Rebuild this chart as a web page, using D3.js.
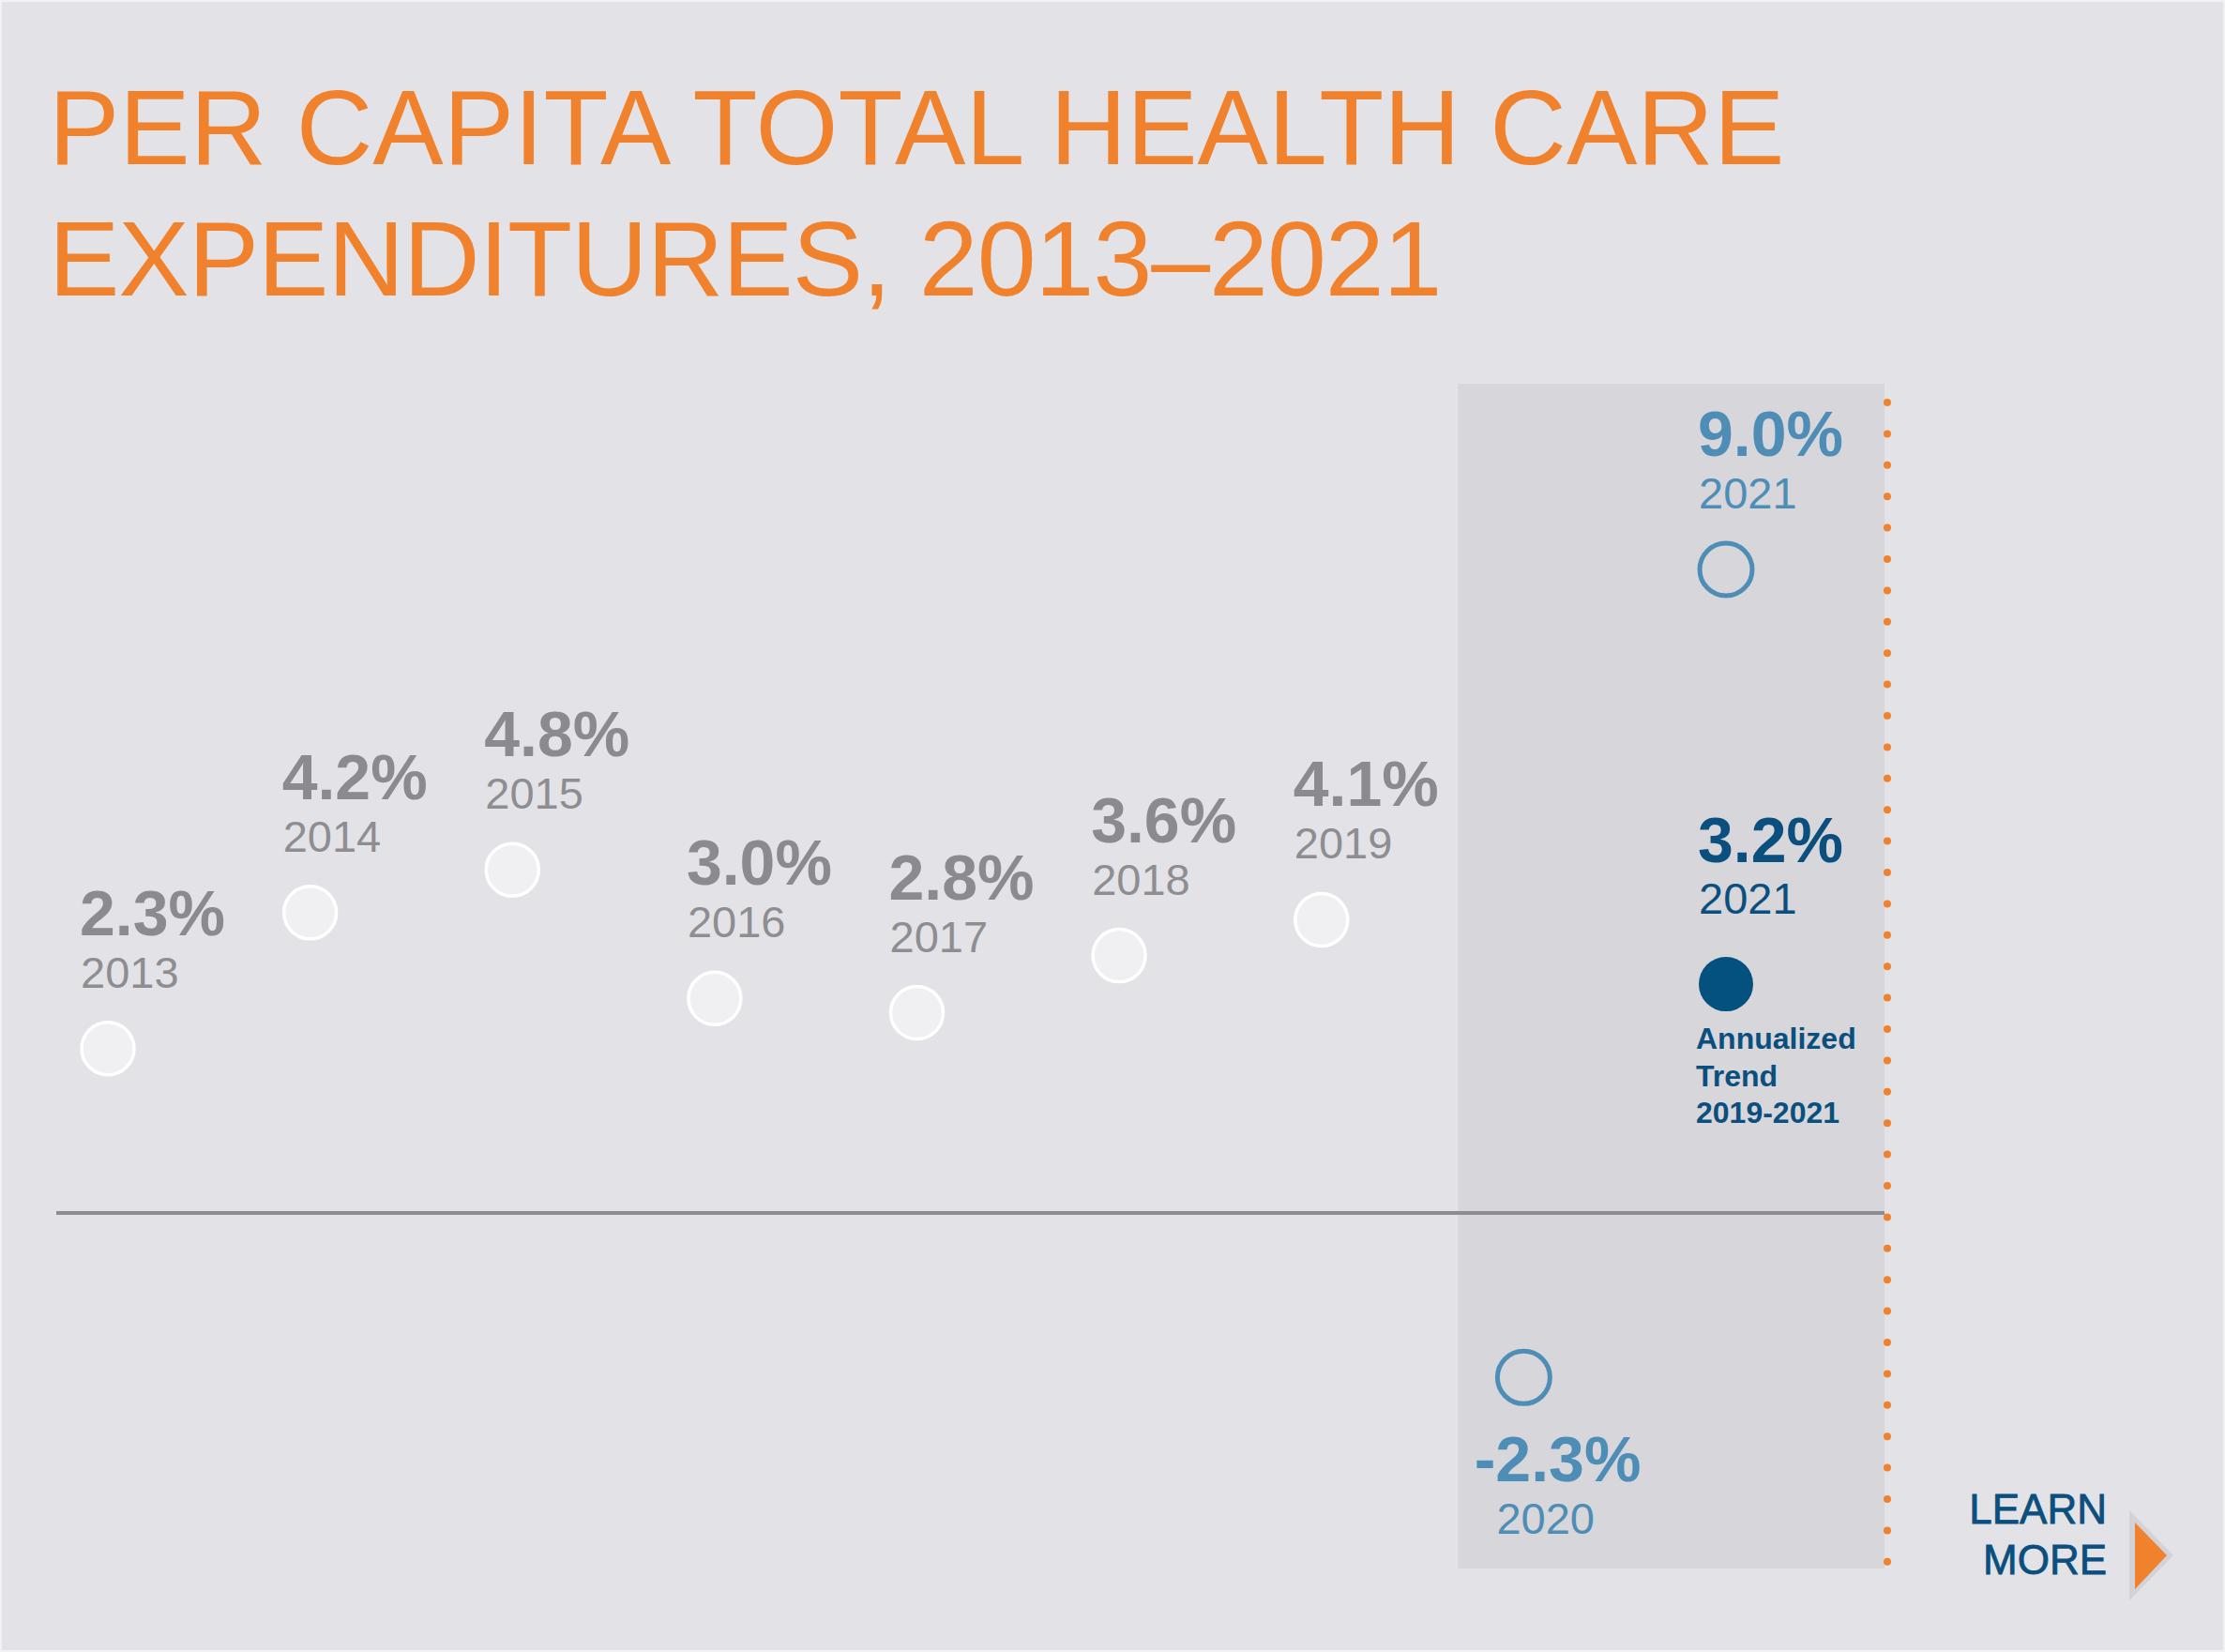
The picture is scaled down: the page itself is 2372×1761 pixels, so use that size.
<!DOCTYPE html>
<html lang="en">
  <head>
    <meta charset="UTF-8" />
    <title>Per Capita Total Health Care Expenditures</title>
    <script src="https://d3js.org/d3.v7.min.js"></script>
    <style>
      body { margin: 0; background: #e3e3e7; }
      text { font-family: "Liberation Sans", Arial, Helvetica, sans-serif; }
    </style>
  </head>

  <body>
    <svg width="2372" height="1761"></svg>

    <script>
      // data
      const years = [2013, 2014, 2015, 2016, 2017, 2018, 2019, 2020, 2021];
      const growth = [2.3, 4.2, 4.8, 3.0, 2.8, 3.6, 4.1, -2.3, 9.0];
      const trendYear = 2021;
      const trendValue = 3.2;
      const trendNote = ["Annualized", "Trend", "2019-2021"];
      const titleLines = ["PER CAPITA TOTAL HEALTH CARE", "EXPENDITURES, 2013\u20132021"];
      const linkLines = ["LEARN", "MORE"];

      const W = 2372, H = 1761;
      const orange = "#f0822e", gray = "#8b8b8f", lightBlue = "#4e8db6", darkBlue = "#0a4f7d";
      const r = 28;

      let svg = d3.select("svg");

      svg.append("rect")
        .attr("x", 1).attr("y", 1)
        .attr("width", W - 2).attr("height", H - 2)
        .attr("fill", "#e3e3e7")
        .attr("stroke", "#f2f2f4")
        .attr("stroke-width", 2);

      const x = d3.scaleLinear().domain([2013, 2021]).range([115, 1840]);
      const y = d3.scaleLinear().domain([0, 9]).range([1293, 607]);

      // title
      svg.append("g")
        .selectAll("text")
        .data(titleLines)
        .enter()
        .append("text")
        .attr("x", 52)
        .attr("y", (d, i) => 175 + i * 140)
        .attr("font-size", 113)
        .attr("letter-spacing", (d, i) => i ? -1 : 0)
        .attr("fill", orange)
        .text(d => d);

      // shaded 2020-2021 band
      const bandLeft = x(2020) - 70, bandRight = x(2021) + 169;
      svg.append("rect")
        .attr("x", bandLeft)
        .attr("y", 409)
        .attr("width", bandRight - bandLeft)
        .attr("height", 1672 - 409)
        .attr("fill", "#d6d6db");

      // zero line
      svg.append("line")
        .attr("x1", 60).attr("x2", bandRight)
        .attr("y1", y(0)).attr("y2", y(0))
        .attr("stroke", "#8d8d91")
        .attr("stroke-width", 4);

      // orange dotted divider
      svg.append("line")
        .attr("x1", bandRight + 3).attr("x2", bandRight + 3)
        .attr("y1", 429).attr("y2", 1668)
        .attr("stroke", orange)
        .attr("stroke-width", 8)
        .attr("stroke-linecap", "round")
        .attr("stroke-dasharray", "0 33.4");

      const pts = years.map((yr, i) => ({ year: yr, value: growth[i], recent: yr >= 2020 }));

      // points
      svg.append("g")
        .selectAll("circle")
        .data(pts)
        .enter()
        .append("circle")
        .attr("cx", d => x(d.year))
        .attr("cy", d => y(d.value))
        .attr("r", r)
        .attr("fill", d => d.recent ? "none" : "#f0f0f2")
        .attr("stroke", d => d.recent ? lightBlue : "#ffffff")
        .attr("stroke-width", d => d.recent ? 5 : 3.5);

      // value + year labels
      const lab = svg.append("g").selectAll("g")
        .data(pts)
        .enter()
        .append("g");

      lab.append("text")
        .attr("class", "val")
        .attr("x", d => x(d.year) - r - 2)
        .attr("y", d => d.value < 0 ? y(d.value) + 111 : y(d.value) - 121)
        .attr("font-size", 68)
        .attr("font-weight", "bold")
        .attr("fill", d => d.recent ? lightBlue : gray)
        .text(d => d.value.toFixed(1) + "%");

      lab.append("text")
        .attr("x", d => x(d.year) - r - 1)
        .attr("y", d => d.value < 0 ? y(d.value) + 167 : y(d.value) - 65)
        .attr("font-size", 47)
        .attr("fill", d => d.recent ? lightBlue : "#8e8e92")
        .text(d => d.year);

      // let the minus sign hang left of the label column
      lab.selectAll("text.val")
        .filter(d => d.value < 0)
        .attr("x", function (d) {
          return x(d.year) - r - 2 - this.getSubStringLength(0, 1);
        });

      // annualized trend
      const tx = x(trendYear), ty = y(trendValue);
      const trend = svg.append("g");
      trend.append("circle")
        .attr("cx", tx).attr("cy", ty)
        .attr("r", r + 1)
        .attr("fill", "#04507f");
      trend.append("text")
        .attr("x", tx - r - 2).attr("y", ty - 130)
        .attr("font-size", 68).attr("font-weight", "bold")
        .attr("fill", darkBlue)
        .text(trendValue.toFixed(1) + "%");
      trend.append("text")
        .attr("x", tx - r - 1).attr("y", ty - 75)
        .attr("font-size", 47)
        .attr("fill", darkBlue)
        .text(trendYear);
      trend.selectAll("text.note")
        .data(trendNote)
        .enter()
        .append("text")
        .attr("class", "note")
        .attr("x", tx - r - 4)
        .attr("y", (d, i) => ty + 69 + i * 39.5)
        .attr("font-size", 32)
        .attr("font-weight", "bold")
        .attr("fill", darkBlue)
        .text(d => d);

      // learn more link
      svg.append("g")
        .selectAll("text")
        .data(linkLines)
        .enter()
        .append("text")
        .attr("x", 2246)
        .attr("y", (d, i) => 1624 + i * 54)
        .attr("text-anchor", "end")
        .attr("font-size", 44)
        .attr("fill", darkBlue)
        .attr("stroke", darkBlue)
        .attr("stroke-width", 0.8)
        .text(d => d);

      svg.append("path")
        .attr("d", "M2270,1610 L2317,1658 L2270,1706 Z")
        .attr("fill", "#d2d2d7");
      svg.append("path")
        .attr("d", "M2276,1623 L2310,1658 L2276,1694 Z")
        .attr("fill", orange);
    </script>
  </body>
</html>
